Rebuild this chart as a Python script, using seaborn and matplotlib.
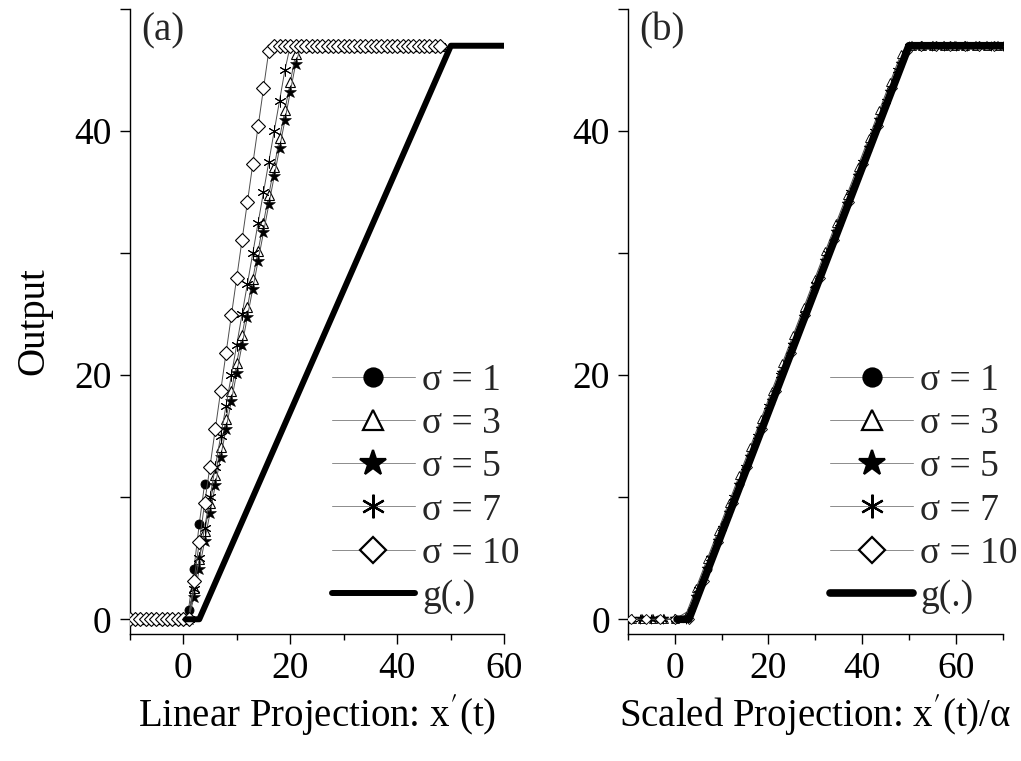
import matplotlib
matplotlib.use("Agg")
import matplotlib.pyplot as plt
import seaborn as sns
import pandas as pd
from matplotlib.ticker import MultipleLocator

# ---------------- data ----------------
x_proj = list(range(-10, 49))          # sampled x'(t) positions
x_proj_s1 = list(range(-10, 5))

y_s1 = [0.0] * 11 + [0.8, 4.1, 7.8, 11.1]
y_s3 = [0.0] * 11 + [0.3, 2.6, 4.9, 7.2, 9.5, 11.8, 14.1, 16.4, 18.7, 21.0, 23.3,
                     25.6, 27.9, 30.2, 32.5, 34.8, 37.1, 39.4, 41.7, 44.0, 46.3] + [47.0] * 27
y_s5 = [0.0] * 11 + [0.0, 1.8, 4.1, 6.4, 8.7, 11.0, 13.3, 15.6, 17.9, 20.2, 22.5,
                     24.8, 27.1, 29.4, 31.7, 34.0, 36.3, 38.6, 40.9, 43.2, 45.5] + [47.0] * 27
y_s7 = [0.0] * 11 + [0.0, 2.5, 5.0, 7.5, 10.0, 12.5, 15.0, 17.5, 20.0, 22.5, 25.0,
                     27.5, 30.0, 32.5, 35.0, 37.5, 40.0, 42.5, 45.0] + [47.0] * 29
y_s10 = [0.0] * 11 + [0.0, 3.1, 6.3, 9.5, 12.5, 15.6, 18.7, 21.8, 24.9, 28.0, 31.1,
                      34.2, 37.3, 40.4, 43.5, 46.6] + [47.0] * 32

sigma_labels = ["σ = 1", "σ = 3", "σ = 5", "σ = 7", "σ = 10"]
alpha_scale = [0.286, 0.435, 0.435, 0.400, 0.323]   # α of each series

g_x = [0.5, 3.0, 50.0, 70.0]
g_y = [0.0, 0.0, 47.0, 47.0]

# ---------------- style ----------------
sns.set_theme(style="ticks")
plt.rcParams["font.family"] = ["Liberation Serif", "DejaVu Serif"]
plt.rcParams["mathtext.fontset"] = "stix"
plt.rcParams["axes.linewidth"] = 1.0

series_x = [x_proj_s1, x_proj, x_proj, x_proj, x_proj]
series_y = [y_s1, y_s3, y_s5, y_s7, y_s10]
marker_style = [
    dict(marker="o", markersize=6.5, markerfacecolor="black", markeredgecolor="black", markeredgewidth=0.6),
    dict(marker="^", markersize=7.5, markerfacecolor="white", markeredgecolor="black", markeredgewidth=0.8),
    dict(marker="*", markersize=9.5, markerfacecolor="black", markeredgecolor="black", markeredgewidth=0.4),
    dict(marker=(6, 2, 0), markersize=8.5, markerfacecolor="black", markeredgecolor="black", markeredgewidth=0.7),
    dict(marker="D", markersize=6.8, markerfacecolor="white", markeredgecolor="black", markeredgewidth=0.8),
]

fig = plt.figure(figsize=(10.21, 7.61), dpi=100)
ax_a = fig.add_axes([0.127, 0.167, 0.367, 0.821])
ax_b = fig.add_axes([0.615, 0.167, 0.367, 0.821])

FS_TICK = 27
FS_LAB = 28

for panel, ax in enumerate([ax_a, ax_b]):
    shrink = 1.0 if panel == 0 else 0.8
    for i in range(5):
        xs = series_x[i]
        if panel == 1:
            xs = [v / alpha_scale[i] for v in xs]
        df = pd.DataFrame({"x": xs, "y": series_y[i]})
        st = dict(marker_style[i])
        st["markersize"] = st["markersize"] * shrink
        st["markeredgewidth"] = st["markeredgewidth"] * (1.0 if panel == 0 else 0.8)
        sns.lineplot(data=df, x="x", y="y", ax=ax, sort=False, estimator=None,
                     color="0.3", linewidth=0.7, label=sigma_labels[i],
                     zorder=3 + i, **st)
    gdf = pd.DataFrame({"x": g_x, "y": g_y})
    sns.lineplot(data=gdf, x="x", y="y", ax=ax, sort=False, estimator=None,
                 color="black", linewidth=4.3 if panel == 0 else 5.5, label="g(.)", zorder=10)

    ax.set_ylim(-1.2, 50)
    ax.yaxis.set_major_locator(MultipleLocator(20))
    ax.yaxis.set_minor_locator(MultipleLocator(10))
    ax.xaxis.set_major_locator(MultipleLocator(20))
    ax.xaxis.set_minor_locator(MultipleLocator(10))
    ax.tick_params(which="major", direction="out", length=7, width=1.0,
                   labelsize=FS_TICK, color="black", labelcolor="black", pad=6)
    ax.tick_params(which="minor", direction="out", length=4, width=1.0, color="black")
    ax.tick_params(axis="y", which="minor", length=7)
    for s in ["top", "right"]:
        ax.spines[s].set_visible(False)
    for s in ["left", "bottom"]:
        ax.spines[s].set_color("black")
    ax.set_facecolor("white")

    leg = ax.legend(loc="lower left", bbox_to_anchor=(0.47, -0.01), frameon=False,
                    fontsize=FS_TICK, markerscale=2.0 / shrink, handlelength=2.2,
                    handletextpad=0.2, labelspacing=0.23, borderpad=0.2)
    for h in leg.get_lines():
        if h.get_linewidth() < 2:
            h.set_color("0.55")
            h.set_markeredgewidth(1.6)

ax_a.set_xlim(-10, 60)
ax_b.set_xlim(-10, 70)

ax_a.set_xlabel(r"Linear Projection: x$^{\prime}$(t)", fontsize=FS_LAB, labelpad=4, color="black")
ax_b.set_xlabel(r"Scaled Projection: x$^{\prime}$(t)/α", fontsize=FS_LAB, labelpad=4, color="black")
ax_a.set_ylabel("Output", fontsize=FS_LAB, labelpad=16, color="black")
ax_b.set_ylabel("")

ax_a.text(0.03, 0.995, "(a)", transform=ax_a.transAxes, fontsize=FS_LAB, va="top", ha="left")
ax_b.text(0.03, 0.995, "(b)", transform=ax_b.transAxes, fontsize=FS_LAB, va="top", ha="left")

fig.savefig("out.png", dpi=100, facecolor="white")
